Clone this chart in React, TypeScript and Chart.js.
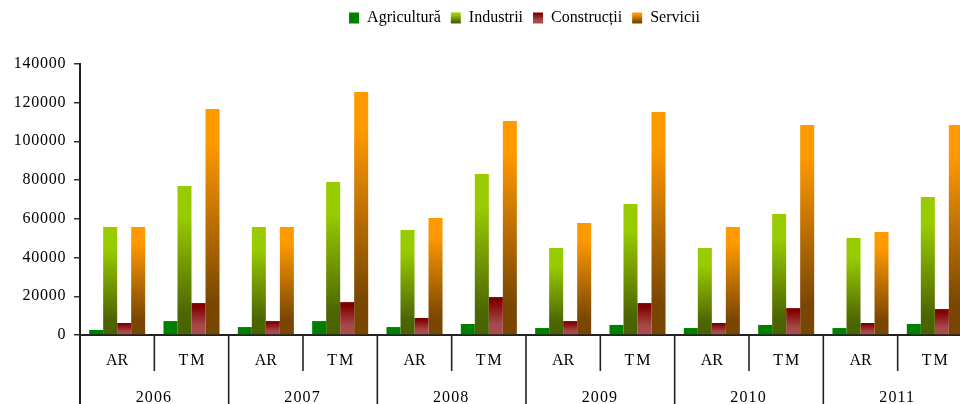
import React, { useEffect, useRef } from "react";
import { Chart, registerables } from "chart.js";

Chart.register(...registerables);

const categories = ["AR", "TM", "AR", "TM", "AR", "TM", "AR", "TM", "AR", "TM", "AR", "TM"];
const years = ["2006", "2007", "2008", "2009", "2010", "2011"];

const agricultura = [2600, 7200, 4100, 7200, 4100, 5700, 3600, 5200, 3600, 5200, 3600, 5700];
const industrii = [55800, 77000, 55800, 79000, 54200, 83200, 44900, 67700, 44900, 62500, 50100, 71300];
const constructii = [6200, 16500, 7200, 17000, 8800, 19600, 7200, 16500, 6200, 13900, 6200, 13400];
const servicii = [55800, 116700, 55800, 125500, 60400, 110500, 57900, 115200, 55800, 108500, 53200, 108500];

const seriesNames = ["Agricultură", "Industrii", "Construcții", "Servicii"];
const yMax = 140000;
const yStep = 20000;

type Stops = [number, string][];
const stopsAgr: Stops = [[0, "#008000"], [1, "#008000"]];
const stopsInd: Stops = [[0, "#99CC00"], [0.2, "#99CC00"], [0.85, "#4D6600"], [1, "#4A6100"]];
const stopsCon: Stops = [[0, "#800000"], [0.1, "#800000"], [0.7, "#A64848"], [1, "#A84D4D"]];
const stopsSer: Stops = [[0, "#FF9900"], [0.15, "#FF9900"], [0.85, "#7B4700"], [1, "#774600"]];
const allStops = [stopsAgr, stopsInd, stopsCon, stopsSer];

const FONT = '"Liberation Serif", "Times New Roman", serif';

function barGradient(stops: Stops) {
  return (ctx: any) => {
    const chart = ctx.chart;
    if (ctx.type !== "data") return stops[0][1];
    const y = chart.scales && chart.scales.y;
    if (!y || !chart.chartArea) return stops[0][1];
    const top = y.getPixelForValue(ctx.raw);
    const base = y.getPixelForValue(0);
    if (!isFinite(top) || !isFinite(base) || top === base) return stops[0][1];
    const g = chart.ctx.createLinearGradient(0, top, 0, base);
    stops.forEach(([o, c]) => g.addColorStop(o, c));
    return g;
  };
}

const LEGEND_SHIFT = 38.5;

const legendShiftPlugin = {
  id: "legendShift",
  afterLayout(chart: any) {
    const lg = chart.legend;
    if (lg) {
      lg.left += LEGEND_SHIFT;
      lg.right += LEGEND_SHIFT;
      const dy = lg.top;
      lg.top -= dy;
      lg.bottom -= dy;
    }
  },
};

function spacedText(ctx: CanvasRenderingContext2D, text: string, x: number, y: number, spacing: number, align: "center" | "right") {
  (ctx as any).letterSpacing = spacing + "px";
  ctx.textAlign = align;
  const dx = align === "center" ? spacing / 2 : spacing;
  ctx.fillText(text, x + dx, y);
  (ctx as any).letterSpacing = "0px";
}

const axisLabelsPlugin = {
  id: "axisLabels",
  afterDraw(chart: any) {
    const { ctx, chartArea, scales } = chart;
    const x = scales.x;
    const y = scales.y;
    const bottom = chartArea.bottom;
    const H = chart.height;
    const p0 = x.getPixelForValue(0);
    const p1 = x.getPixelForValue(1);
    const w = p1 - p0;
    ctx.save();
    ctx.strokeStyle = "#222";
    for (let i = 0; i <= categories.length; i++) {
      const px = p0 - w / 2 + i * w;
      ctx.beginPath();
      ctx.lineWidth = i === 0 ? 2 : 1.6;
      ctx.moveTo(px, bottom);
      ctx.lineTo(px, i % 2 === 0 ? H : bottom + 36);
      ctx.stroke();
    }
    ctx.fillStyle = "#000";
    ctx.font = "16px " + FONT;
    ctx.textBaseline = "alphabetic";
    categories.forEach((c, i) => {
      spacedText(ctx, c, x.getPixelForValue(i), bottom + 30, c === "TM" ? 2 : 0, "center");
    });
    years.forEach((yr, k) => {
      const cx = (x.getPixelForValue(2 * k) + x.getPixelForValue(2 * k + 1)) / 2 - 1;
      spacedText(ctx, yr, cx, bottom + 66.5, 1.1, "center");
    });
    y.ticks.forEach((t: any) => {
      const py = y.getPixelForValue(t.value);
      spacedText(ctx, String(t.value), chartArea.left - 14.5, py + 4, 0.75, "right");
    });
    ctx.restore();
  },
};

export default function App() {
  const ref = useRef<HTMLCanvasElement | null>(null);

  useEffect(() => {
    if (!ref.current) return;
    const datasets = [agricultura, industrii, constructii, servicii].map((d, i) => ({
      label: seriesNames[i],
      data: d,
      backgroundColor: barGradient(allStops[i]),
      borderWidth: 0,
      barPercentage: 1,
      categoryPercentage: 0.754,
    }));
    const chart = new Chart(ref.current, {
      type: "bar",
      data: { labels: categories, datasets },
      plugins: [legendShiftPlugin, axisLabelsPlugin],
      options: {
        animation: false,
        responsive: false,
        devicePixelRatio: 1,
        layout: { padding: { top: 0, left: 0, right: 0, bottom: 0 } },
        plugins: {
          tooltip: { enabled: false },
          legend: {
            position: "top",
            align: "center",
            labels: {
              boxWidth: 10,
              boxHeight: 11,
              padding: 10,
              color: "#000",
              font: { family: FONT, size: 16 },
              generateLabels: (ch: any) => {
                const items = (Chart.defaults.plugins.legend.labels as any).generateLabels(ch);
                return items.map((it: any, i: number) => {
                  const g = ch.ctx.createLinearGradient(0, 12.5, 0, 23.5);
                  allStops[i].forEach(([o, c]) => g.addColorStop(o, c));
                  return { ...it, fillStyle: g, strokeStyle: "rgba(0,0,0,0)", lineWidth: 0 };
                });
              },
            },
          },
        },
        scales: {
          x: {
            type: "category",
            offset: true,
            grid: { display: false },
            ticks: { display: false },
            border: { display: true, color: "#222", width: 2 },
            afterFit: (s: any) => {
              s.height = 69;
              s.paddingLeft = 0;
              s.paddingRight = 0;
            },
          },
          y: {
            min: 0,
            max: yMax,
            ticks: {
              stepSize: yStep,
              display: false,
            },
            grid: {
              drawOnChartArea: false,
              drawTicks: true,
              tickLength: 6,
              color: "#333",
              lineWidth: 1.5,
            },
            border: { display: true, color: "#222", width: 2 },
            afterFit: (s: any) => {
              s.width = 80;
              s.paddingTop = 64;
            },
          },
        },
      },
    } as any);
    return () => chart.destroy();
  }, []);

  return (
    <div
      style={{
        position: "fixed",
        left: 0,
        top: 0,
        width: 960,
        height: 404,
        overflow: "hidden",
        background: "#fff",
      }}
    >
      <canvas ref={ref} width={972} height={404} style={{ width: 972, height: 404, display: "block" }} />
    </div>
  );
}
